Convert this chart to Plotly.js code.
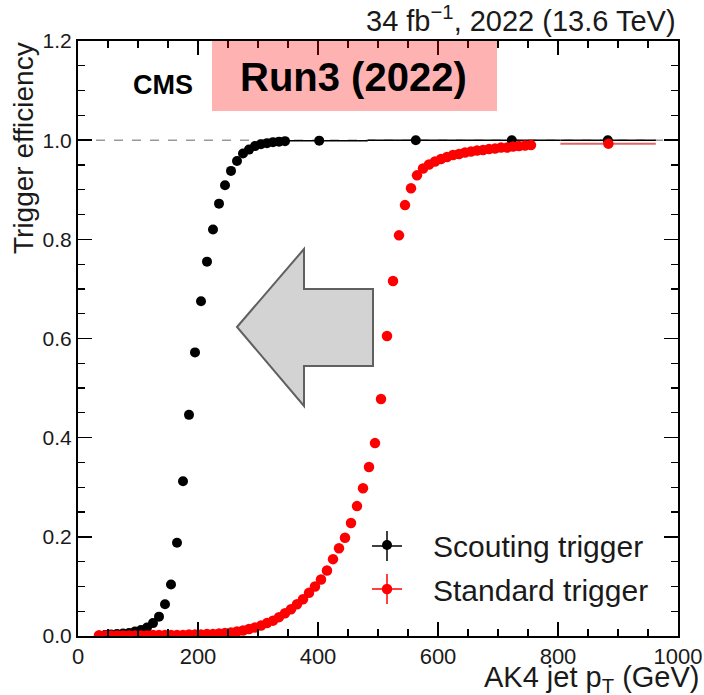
<!DOCTYPE html>
<html>
<head>
<meta charset="utf-8">
<script src="https://cdn.plot.ly/plotly-3.0.1.min.js"></script>
<style>html,body{margin:0;padding:0;background:#fff;}#chart{width:704px;height:695px;}</style>
</head>
<body>
<div id="chart"></div>
<script>
// ---- Data ----
// Scouting trigger: fine 10-GeV bins
const scoutPt = [35,45,55,65,75,85,95,105,115,125,135,145,155,165,175,185,195,205,215,225,235,245,255,265,275,285,295,305,315,325,335,345];
const scoutEff = [0.001,0.002,0.003,0.004,0.005,0.006,0.009,0.012,0.017,0.026,0.039,0.064,0.104,0.188,0.312,0.446,0.572,0.675,0.755,0.820,0.872,0.909,0.938,0.958,0.973,0.981,0.988,0.992,0.994,0.996,0.997,0.998];
// Scouting trigger: wide bins
const scoutWidePt = [402,563,723,883];
const scoutWideEff = [0.999,1.000,1.000,1.000];
const scoutWideLow = [52,80,80,79];   // bin extent below centre (GeV)
const scoutWideHigh = [81,80,81,80];  // bin extent above centre (GeV)

// Standard trigger: fine 10-GeV bins
const stdPt = [35,45,55,65,75,85,95,105,115,125,135,145,155,165,175,185,195,205,215,225,235,245,255,265,275,285,295,305,315,325,335,345,355,365,375,385,395,405,415,425,435,445,455,465,475,485,495,505,515,525,535,545,555,565,575,585,595,605,615,625,635,645,655,665,675,685,695,705,715,725,735,745,755];
const stdEff = [0.001,0.001,0.001,0.001,0.001,0.001,0.001,0.001,0.001,0.002,0.002,0.002,0.002,0.002,0.002,0.003,0.003,0.003,0.004,0.004,0.005,0.006,0.007,0.009,0.011,0.014,0.017,0.021,0.026,0.031,0.038,0.046,0.054,0.064,0.074,0.087,0.100,0.114,0.132,0.155,0.177,0.198,0.228,0.262,0.298,0.341,0.389,0.478,0.605,0.716,0.808,0.869,0.903,0.929,0.943,0.951,0.957,0.962,0.966,0.970,0.972,0.975,0.977,0.979,0.980,0.982,0.983,0.985,0.985,0.987,0.988,0.989,0.990,0.989];
// Standard trigger: wide bin
const stdWidePt = [884];
const stdWideEff = [0.993];
const stdWideLow = [80];
const stdWideHigh = [79];

const xTickVals = [0,200,400,600,800,1000];
const xTickText = ['0','200','400','600','800','1000'];
const yTickVals = [0,0.2,0.4,0.6,0.8,1.0,1.2];
const yTickText = ['0.0','0.2','0.4','0.6','0.8','1.0','1.2'];

// ---- Plot ----
const FONT = 'Liberation Sans, Arial, Helvetica, sans-serif';
const W = 704, H = 695;
const L = 78, R = 26, T = 41, B = 59;
const pw = W - L - R, ph = H - T - B;
const px = v => (v - L) / pw;          // pixel -> paper x
const py = v => (H - B - v) / ph;      // pixel -> paper y

const traces = [
  {
    x: scoutPt, y: scoutEff, type: 'scatter', mode: 'markers',
    name: 'Scouting trigger', legendgroup: 'a',
    marker: {color: '#000000', size: 10},
    error_x: {type: 'constant', value: 5, color: '#000000', thickness: 1.5, width: 0}
  },
  {
    x: scoutWidePt, y: scoutWideEff, type: 'scatter', mode: 'markers',
    name: 'Scouting trigger', legendgroup: 'a', showlegend: false,
    marker: {color: '#000000', size: 10},
    error_x: {type: 'data', symmetric: false, array: scoutWideHigh, arrayminus: scoutWideLow, color: '#000000', thickness: 1.5, width: 0}
  },
  {
    x: stdPt, y: stdEff, type: 'scatter', mode: 'markers',
    name: 'Standard trigger', legendgroup: 'b',
    marker: {color: '#ff0000', size: 10.5},
    error_x: {type: 'constant', value: 5, color: '#ff0000', thickness: 1.5, width: 0}
  },
  {
    x: stdWidePt, y: stdWideEff, type: 'scatter', mode: 'markers',
    name: 'Standard trigger', legendgroup: 'b', showlegend: false,
    marker: {color: '#ff0000', size: 10.5},
    error_x: {type: 'data', symmetric: false, array: stdWideHigh, arrayminus: stdWideLow, color: '#e06666', thickness: 2, width: 0}
  }
];

const axisCommon = {
  showgrid: false, zeroline: false,
  showline: true, linecolor: '#000', linewidth: 2, mirror: 'allticks',
  ticks: 'inside', ticklen: 14, tickwidth: 1.5, tickcolor: '#000',
  tickfont: {family: FONT, size: 21, color: '#1a1a1a'}
};

const layout = {
  width: W, height: H,
  margin: {l: L, r: R, t: T, b: B, pad: 0},
  paper_bgcolor: '#ffffff', plot_bgcolor: '#ffffff',
  font: {family: FONT, color: '#1a1a1a'},
  showlegend: true,
  legend: {
    x: px(341), y: py(519), xanchor: 'left', yanchor: 'top',
    bgcolor: 'rgba(0,0,0,0)', borderwidth: 0,
    font: {family: FONT, size: 30, color: '#1a1a1a'},
    itemwidth: 82, traceorder: 'grouped', tracegroupgap: 2
  },
  xaxis: Object.assign({}, axisCommon, {
    range: [0, 1000], tickmode: 'array', tickvals: xTickVals, ticktext: xTickText,
    minor: {dtick: 50, tick0: 0, ticks: 'inside', ticklen: 7, tickwidth: 1.2, tickcolor: '#000', showgrid: false},
    tickfont: {family: FONT, size: 22, color: '#1a1a1a'}
  }),
  yaxis: Object.assign({}, axisCommon, {
    range: [0, 1.2], tickmode: 'array', tickvals: yTickVals, ticktext: yTickText,
    minor: {dtick: 0.05, tick0: 0, ticks: 'inside', ticklen: 7, tickwidth: 1.2, tickcolor: '#000', showgrid: false}
  }),
  shapes: [
    // reference line at efficiency = 1
    {type: 'line', xref: 'x', yref: 'y', x0: 0, x1: 1000, y0: 1, y1: 1,
     line: {color: '#999999', width: 1.5, dash: 'dash'}, layer: 'below'},
    // big grey arrow pointing left
    {type: 'path', xref: 'paper', yref: 'paper',
     path: 'M ' + px(237) + ' ' + py(327) + ' L ' + px(304) + ' ' + py(249) + ' L ' + px(304) + ' ' + py(289) +
           ' L ' + px(373) + ' ' + py(289) + ' L ' + px(373) + ' ' + py(366) + ' L ' + px(304) + ' ' + py(366) +
           ' L ' + px(304) + ' ' + py(406) + ' Z',
     fillcolor: '#d3d3d3', line: {color: '#606060', width: 2}, layer: 'above'},
    // translucent pink label box
    {type: 'rect', xref: 'paper', yref: 'paper', x0: px(212), x1: px(497), y0: py(111), y1: py(41),
     fillcolor: 'rgba(255,0,0,0.3)', line: {width: 0}, layer: 'above'},
    // legend error-bar crosses
    {type: 'line', xref: 'paper', yref: 'paper', x0: px(372), x1: px(402), y0: py(546), y1: py(546), line: {color: '#000', width: 1.5}},
    {type: 'line', xref: 'paper', yref: 'paper', x0: px(387), x1: px(387), y0: py(531), y1: py(561), line: {color: '#000', width: 1.5}},
    {type: 'line', xref: 'paper', yref: 'paper', x0: px(372), x1: px(402), y0: py(589), y1: py(589), line: {color: '#ff0000', width: 1.5}},
    {type: 'line', xref: 'paper', yref: 'paper', x0: px(387), x1: px(387), y0: py(574), y1: py(604), line: {color: '#ff0000', width: 1.5}}
  ],
  annotations: [
    {text: '34 fb<sup>\u22121</sup>, 2022 (13.6 TeV)', xref: 'paper', yref: 'paper',
     x: px(678), y: py(19), xanchor: 'right', yanchor: 'middle', showarrow: false,
     font: {family: FONT, size: 29, color: '#1a1a1a'}},
    {text: '<b>CMS</b>', xref: 'paper', yref: 'paper', x: px(163), y: py(85),
     xanchor: 'center', yanchor: 'middle', showarrow: false,
     font: {family: FONT, size: 27, color: '#000'}},
    {text: '<b>Run3 (2022)</b>', xref: 'paper', yref: 'paper', x: px(353), y: py(77),
     xanchor: 'center', yanchor: 'middle', showarrow: false,
     font: {family: FONT, size: 40, color: '#000'}},
    {text: 'AK4 jet p<sub>T</sub> (GeV)', xref: 'paper', yref: 'paper', x: px(701), y: py(679),
     xanchor: 'right', yanchor: 'middle', showarrow: false,
     font: {family: FONT, size: 29, color: '#1a1a1a'}},
    {text: 'Trigger efficiency', xref: 'paper', yref: 'paper', x: px(23), y: py(40),
     xanchor: 'center', yanchor: 'top', textangle: -90, showarrow: false,
     font: {family: FONT, size: 28, color: '#1a1a1a'}}
  ]
};

Plotly.newPlot('chart', traces, layout, {displayModeBar: false, staticPlot: true});
</script>
</body>
</html>
